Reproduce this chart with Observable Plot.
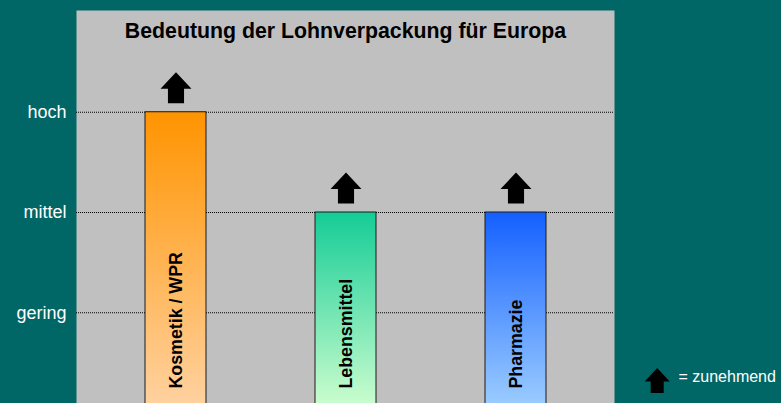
<!DOCTYPE html>
<html>
<head>
<meta charset="utf-8">
<script src="https://cdn.jsdelivr.net/npm/d3@7"></script>
<script src="https://cdn.jsdelivr.net/npm/@observablehq/plot@0.6"></script>
<style>
  html, body { margin: 0; padding: 0; background: #006666; overflow: hidden; }
  #chart { width: 781px; height: 403px; }
</style>
</head>
<body>
<div id="chart"></div>
<script>
// ---- data ----
const title = "Bedeutung der Lohnverpackung für Europa";
const categories = ["Kosmetik / WPR", "Lebensmittel", "Pharmazie"];
const values = [3, 2, 2];              // 1 = gering, 2 = mittel, 3 = hoch
const levelTicks = [1, 2, 3];
const levelLabels = ["gering", "mittel", "hoch"];
const trend = ["zunehmend", "zunehmend", "zunehmend"];
const legendLabel = "= zunehmend";

// ---- styles ----
const gradientStops = [
  ["#ff9400", "#ffd3a4"],
  ["#14cc96", "#d2ffd0"],
  ["#1460ff", "#a0d0ff"]
];
const font = "'Liberation Sans', Arial, sans-serif";

// block-arrow symbol (up)
const upArrow = {
  draw(ctx, size) {
    const u = Math.sqrt(size / Math.PI);
    const b = 0.07 * u, s = 0.52 * u;
    ctx.moveTo(0, -u);
    ctx.lineTo(u, b);
    ctx.lineTo(s, b);
    ctx.lineTo(s, u);
    ctx.lineTo(-s, u);
    ctx.lineTo(-s, b);
    ctx.lineTo(-u, b);
    ctx.closePath();
  }
};

const defs = () => {
  const d = d3.create("svg:defs");
  gradientStops.forEach(([a, b], i) => {
    const g = d.append("linearGradient")
      .attr("id", "grad" + i)
      .attr("x1", 0).attr("y1", 0).attr("x2", 0).attr("y2", 1);
    g.append("stop").attr("offset", "0%").attr("stop-color", a);
    g.append("stop").attr("offset", "100%").attr("stop-color", b);
  });
  return d.node();
};

const chart = Plot.plot({
  width: 781,
  height: 403,
  marginLeft: 76,
  marginRight: 167,
  marginTop: 10,
  marginBottom: 0,
  style: { background: "#006666", fontFamily: font, color: "white", overflow: "hidden" },
  x: { type: "band", domain: categories, range: [145, 546], paddingInner: 0.6412, paddingOuter: 0, round: false, axis: null },
  y: { domain: [0, 4], range: [412.5, 11.5], axis: null },
  color: { type: "identity" },
  marks: [
    defs,
    Plot.frame({ fill: "#c0c0c0", stroke: "none" }),
    Plot.ruleY(levelTicks, { stroke: "black", strokeDasharray: "1,1", strokeWidth: 1 }),
    Plot.barY(categories, {
      x: categories,
      y: values,
      fill: (d, i) => `url(#grad${i})`,
      stroke: "#1a1a1a",
      strokeWidth: 1
    }),
    Plot.dot(categories, {
      x: categories,
      y: values,
      dy: -24.5,
      r: 15.5,
      symbol: upArrow,
      fill: "black",
      stroke: "none",
      title: (d, i) => trend[i]
    }),
    Plot.text(categories, {
      x: categories,
      frameAnchor: "bottom",
      dy: -15,
      rotate: -90,
      textAnchor: "start",
      lineAnchor: "middle",
      fill: "black",
      fontWeight: "bold",
      fontSize: 17.8,
      text: d => d
    }),
    Plot.text([title], {
      frameAnchor: "top",
      dy: 21,
      lineAnchor: "middle",
      fill: "black",
      fontWeight: "bold",
      fontSize: 21.3,
      text: d => d
    }),
    Plot.axisY({
      ticks: levelTicks,
      tickFormat: d => levelLabels[d - 1],
      tickSize: 0,
      tickPadding: 10,
      color: "white",
      fill: "white",
      fontSize: 18,
      label: null
    }),
    Plot.dot([legendLabel], {
      frameAnchor: "bottom-right",
      dx: 42.7,
      dy: -23,
      r: 12.5,
      symbol: upArrow,
      fill: "black",
      stroke: "none"
    }),
    Plot.text([legendLabel], {
      frameAnchor: "bottom-right",
      dx: 64,
      dy: -21.5,
      textAnchor: "start",
      fill: "white",
      fontSize: 16,
      text: d => d
    })
  ]
});
document.getElementById("chart").appendChild(chart);
</script>
</body>
</html>
